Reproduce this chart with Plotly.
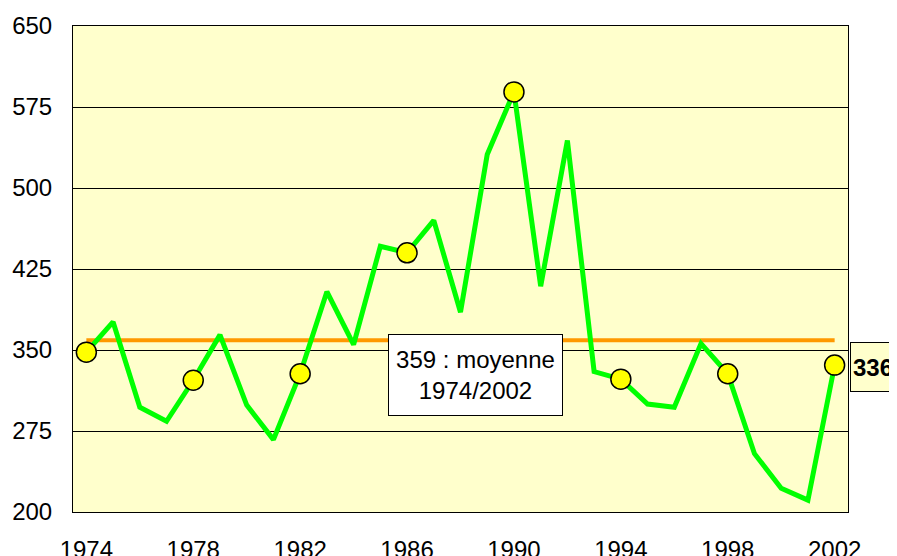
import plotly.graph_objects as go

years = list(range(1974, 2003))
values = [348, 376, 297, 284, 322, 364, 299, 267, 328, 404, 355, 446, 440, 470,
          385, 531, 589, 409, 544, 330, 323, 300, 297, 356, 328, 254, 222, 211, 336]
mean_value = 359
marker_years = [1974, 1978, 1982, 1986, 1990, 1994, 1998, 2002]
y_ticks = [200, 275, 350, 425, 500, 575, 650]
x_ticks = [1974, 1978, 1982, 1986, 1990, 1994, 1998, 2002]

marker_values = [values[years.index(y)] for y in marker_years]

font_family = "Liberation Sans, Arial, sans-serif"

fig = go.Figure()
fig.add_trace(go.Scatter(x=[years[0], years[-1]], y=[mean_value, mean_value],
                         mode="lines", line=dict(color="#FF9900", width=4),
                         hoverinfo="skip", showlegend=False))
fig.add_trace(go.Scatter(x=years, y=values, mode="lines",
                         line=dict(color="#00FF00", width=5),
                         showlegend=False))
fig.add_trace(go.Scatter(x=marker_years, y=marker_values, mode="markers",
                         marker=dict(size=20, color="#FFFF00",
                                     line=dict(color="black", width=1.5)),
                         showlegend=False))

fig.add_annotation(xref="paper", yref="paper", x=0.519, y=0.282,
                   xanchor="center", yanchor="middle",
                   text="359 : moyenne<br>1974/2002", showarrow=False,
                   font=dict(family=font_family, size=24, color="black"),
                   bgcolor="white", bordercolor="black", borderwidth=1,
                   width=171, height=78, borderpad=1)
fig.add_annotation(xref="paper", yref="paper", x=1.0026, y=0.298,
                   xanchor="left", yanchor="middle", align="left",
                   text="<b>336</b>", showarrow=False,
                   font=dict(family=font_family, size=24, color="black"),
                   bgcolor="#FFFFCC", bordercolor="black", borderwidth=1,
                   width=60, height=44, borderpad=2)

fig.update_layout(
    width=897, height=556,
    margin=dict(l=65, r=57, t=18, b=52, autoexpand=False),
    paper_bgcolor="white", plot_bgcolor="#FFFFCC",
    font=dict(family=font_family, size=24, color="black"),
    xaxis=dict(range=[1973.5, 2002.5], tickvals=x_ticks,
               ticktext=[str(t) for t in x_ticks], automargin=False,
               showgrid=False, zeroline=False,
               showline=True, linecolor="black", linewidth=1, mirror=True,
               ticks="outside", ticklen=16, tickcolor="rgba(0,0,0,0)"),
    yaxis=dict(range=[200, 650], tickvals=y_ticks, automargin=False,
               showgrid=True, gridcolor="black", gridwidth=1, zeroline=False,
               showline=True, linecolor="black", linewidth=1, mirror=True,
               ticks="outside", ticklen=15, tickcolor="rgba(0,0,0,0)"),
)

fig.write_html("out.html")
